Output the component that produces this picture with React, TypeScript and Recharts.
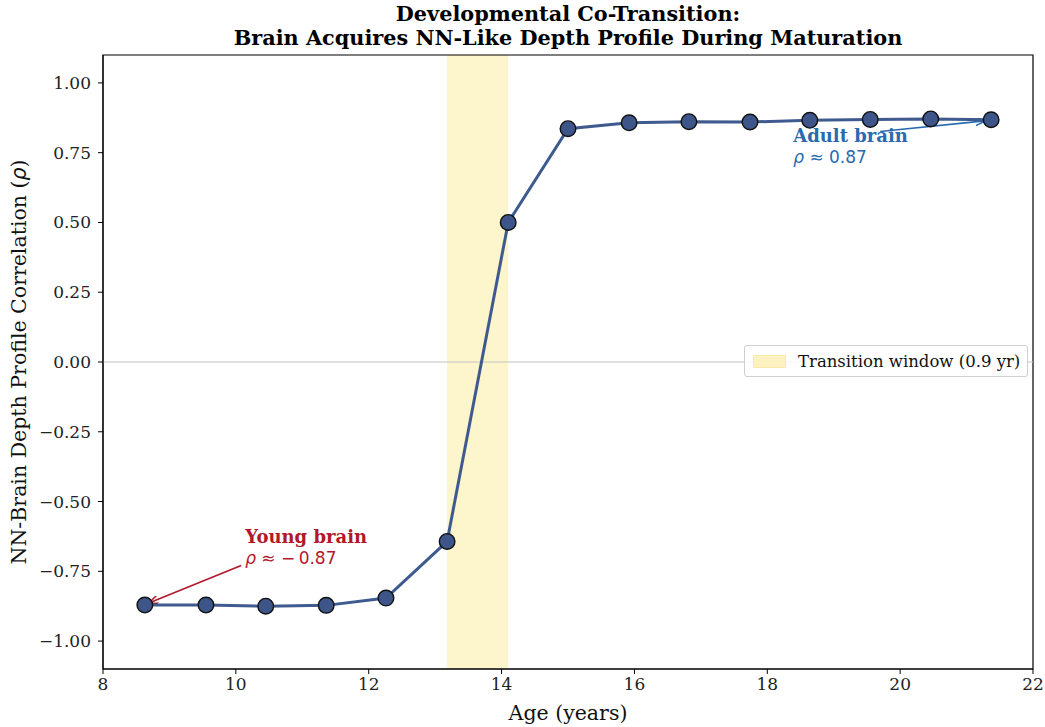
import React from 'react';
import {
  LineChart, Line, XAxis, YAxis, ReferenceArea, ReferenceLine, ReferenceDot,
} from 'recharts';

const ages = [8.63, 9.55, 10.45, 11.36, 12.26, 13.18, 14.1, 15.0, 15.92, 16.82, 17.74, 18.64, 19.55, 20.46, 21.37];
const rho = [-0.871, -0.871, -0.875, -0.872, -0.846, -0.643, 0.5, 0.836, 0.857, 0.861, 0.86, 0.866, 0.869, 0.871, 0.868];
const xTicks = [8, 10, 12, 14, 16, 18, 20, 22];
const yTicks = [-1, -0.75, -0.5, -0.25, 0, 0.25, 0.5, 0.75, 1];
const windowStart = 13.18;
const windowEnd = 14.1;

const chartData = ages.map((age, i) => ({ age, rho: rho[i] }));

const SERIF = '"DejaVu Serif", serif';
const SANS = '"DejaVu Sans", sans-serif';
const LINE_COLOR = '#3f5a8e';
const ADULT_COLOR = '#2a6ab0';
const YOUNG_COLOR = '#b2182b';

const fmtY = (v: number) => (v < 0 ? '\u2212' + Math.abs(v).toFixed(2) : v.toFixed(2));

// two-line annotation: bold serif heading + math-style rho line
const Annotation = (title: string, value: string, color: string) =>
  (p: any) => (
    <g fill={color}>
      <text x={p.cx} y={p.cy} fontFamily={SERIF} fontWeight="bold" fontSize={18}>
        {title}
      </text>
      <text x={p.cx} y={p.cy + 21} fontFamily={SANS} fontSize={17}>
        <tspan fontStyle="italic">ρ</tspan>
        {' ≈ ' + value}
      </text>
    </g>
  );

const App: React.FC = () => {
  return (
    <div style={{ position: 'absolute', left: 0, top: 0, width: 1045, height: 727, background: '#fff' }}>
      <svg width={0} height={0} style={{ position: 'absolute' }}>
        <defs>
          <marker id="arrowAdult" markerWidth="10" markerHeight="8" refX="9" refY="4" orient="auto" markerUnits="userSpaceOnUse">
            <path d="M0,0 L10,4 L0,8" fill="none" stroke={ADULT_COLOR} strokeWidth={1.5} />
          </marker>
          <marker id="arrowYoung" markerWidth="10" markerHeight="8" refX="9" refY="4" orient="auto" markerUnits="userSpaceOnUse">
            <path d="M0,0 L10,4 L0,8" fill="none" stroke={YOUNG_COLOR} strokeWidth={1.5} />
          </marker>
        </defs>
      </svg>

      <div
        style={{
          position: 'absolute', left: 103, width: 930, top: 2, textAlign: 'center',
          fontFamily: SERIF, fontWeight: 'bold', fontSize: 20.8, lineHeight: '24px', color: '#000',
        }}
      >
        Developmental Co-Transition:
        <br />
        Brain Acquires NN-Like Depth Profile During Maturation
      </div>

      <LineChart
        width={1045}
        height={727}
        data={chartData}
        margin={{ top: 55, right: 12, bottom: 0, left: 0 }}
      >
        <XAxis
          dataKey="age"
          type="number"
          domain={[8, 22]}
          ticks={xTicks}
          allowDataOverflow
          stroke="#000"
          tickSize={5}
          tickMargin={4}
          height={58}
          tick={{ fill: '#222', fontFamily: SERIF, fontSize: 17 }}
          label={(props: any) => {
            const vb = props.viewBox;
            return (
              <text x={vb.x + vb.width / 2} y={vb.y + 51} textAnchor="middle" fontFamily={SERIF} fontSize={20.5} fill="#111">
                Age (years)
              </text>
            );
          }}
        />
        <YAxis
          type="number"
          domain={[-1.1, 1.1]}
          ticks={yTicks}
          allowDataOverflow
          stroke="#000"
          width={103}
          tickSize={5}
          tickMargin={7}
          tickFormatter={fmtY}
          tick={{ fill: '#222', fontFamily: SERIF, fontSize: 17 }}
          label={(props: any) => {
            const vb = props.viewBox;
            const cx = 26;
            const cy = vb.y + vb.height / 2;
            return (
              <text x={cx} y={cy} transform={`rotate(-90 ${cx} ${cy})`} textAnchor="middle" fontFamily={SERIF} fontSize={20.5} fill="#111">
                NN-Brain Depth Profile Correlation (
                <tspan fontFamily={SANS} fontStyle="italic">ρ</tspan>)
              </text>
            );
          }}
        />
        <ReferenceArea x1={windowStart} x2={windowEnd} y1={-1.1} y2={1.1} fill="#fdf5cc" fillOpacity={1} stroke="none" />
        <ReferenceLine y={0} stroke="#c4c4c4" strokeWidth={1.2} />
        <ReferenceArea x1={8} x2={22} y1={-1.1} y2={1.1} fill="none" stroke="#000" strokeWidth={1.2} />

        <ReferenceLine
          segment={[{ x: 19.7, y: 0.826 }, { x: 21.27, y: 0.864 }]}
          stroke={ADULT_COLOR}
          strokeWidth={1.6}
          markerEnd="url(#arrowAdult)"
        />
        <ReferenceLine
          segment={[{ x: 10.08, y: -0.729 }, { x: 8.7, y: -0.863 }]}
          stroke={YOUNG_COLOR}
          strokeWidth={1.6}
          markerEnd="url(#arrowYoung)"
        />

        <Line
          type="linear"
          dataKey="rho"
          stroke={LINE_COLOR}
          strokeWidth={3}
          dot={{ r: 7.8, fill: '#3d5589', stroke: '#111', strokeWidth: 1.4 }}
          activeDot={false}
          isAnimationActive={false}
        />

        <ReferenceDot x={18.39} y={0.789} r={0} shape={Annotation('Adult brain', '0.87', ADULT_COLOR)} />
        <ReferenceDot x={10.14} y={-0.65} r={0} shape={Annotation('Young brain', '\u2212\u20090.87', YOUNG_COLOR)} />
      </LineChart>

      <div
        style={{
          position: 'absolute', left: 744, top: 345, width: 284, height: 32, boxSizing: 'border-box',
          border: '1px solid #d0d0d0', borderRadius: 3, background: 'rgba(255,255,255,0.85)',
          display: 'flex', alignItems: 'center', fontFamily: SERIF, fontSize: 16.5, color: '#111',
        }}
      >
        <span
          style={{
            display: 'inline-block', width: 33, height: 13, marginLeft: 8, marginRight: 12,
            background: '#fcf1c0', border: '1px solid #f8eaa8', boxSizing: 'border-box',
          }}
        />
        Transition window (0.9 yr)
      </div>
    </div>
  );
};

export default App;
